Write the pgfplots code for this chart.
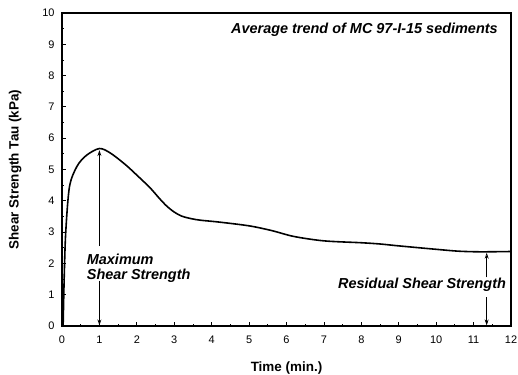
\documentclass[border=0pt]{standalone}
\usepackage{pgfplots}
\pgfplotsset{compat=1.18}
\usepackage{fontspec}
\setmainfont{Liberation Sans}
\usetikzlibrary{arrows.meta}
\begin{document}
\begin{tikzpicture}
\begin{axis}[
  scale only axis,
  width=449bp, height=313bp,
  xmin=0, xmax=12, ymin=0, ymax=10,
  xtick={0,...,12}, ytick={0,...,10},
  minor x tick num=1, minor y tick num=1,
  xtick pos=left, ytick pos=left,
  tick align=inside,
  major tick length=4bp, minor tick length=2.5bp,
  axis line style={line width=1.2pt},
  every tick/.style={line width=0.8pt, black},
  /pgf/number format/assume math mode=true,
  tick label style={font=\fontsize{11}{13}\selectfont},
  xticklabel style={yshift=-6bp},
  yticklabel style={xshift=-4bp},
  xlabel={\bfseries Time (min.)},
  ylabel={\bfseries Shear Strength Tau (kPa)},
  label style={font=\fontsize{13.5}{15}\selectfont},
  xlabel style={yshift=-12bp},
  ylabel style={yshift=14bp},
  clip=false,
]
\addplot[black, line width=1.6pt, smooth, tension=0.5] coordinates {
(0.03,0) (0.06,1.6) (0.1,3.0) (0.2,4.45) (0.4,5.1) (0.65,5.45) (1.0,5.67)
(1.3,5.52) (1.7,5.15) (2.0,4.82) (2.35,4.42) (2.6,4.08) (2.8,3.83) (3.0,3.64)
(3.2,3.51) (3.45,3.43) (3.7,3.38) (4.2,3.32) (5.0,3.2) (5.6,3.05) (6.2,2.86) (7.0,2.72)
(8.0,2.66) (8.5,2.62) (9.0,2.56) (10.0,2.45) (10.6,2.39) (11.2,2.37) (12,2.38)
};
\draw[-{Stealth[length=6bp,width=4bp,open]}, line width=0.7pt] (axis cs:1,2.55) -- (axis cs:1,5.62);
\draw[-{Stealth[length=6bp,width=4bp,open]}, line width=0.6pt] (axis cs:1,1.45) -- (axis cs:1,0.02);
\node[anchor=base west, font=\fontsize{14.5}{16}\selectfont\bfseries\itshape, inner sep=0pt] at (axis cs:0.66,1.95) {Maximum};
\node[anchor=base west, font=\fontsize{14.5}{16}\selectfont\bfseries\itshape, inner sep=0pt] at (axis cs:0.66,1.47) {Shear Strength};
\draw[-{Stealth[length=6bp,width=4bp,open]}, line width=0.6pt] (axis cs:11.35,1.55) -- (axis cs:11.35,2.34);
\draw[-{Stealth[length=6bp,width=4bp]}, line width=0.7pt] (axis cs:11.35,0.92) -- (axis cs:11.35,0.02);
\node[anchor=east, font=\fontsize{14.5}{16}\selectfont\bfseries\itshape, inner sep=0pt] at (axis cs:11.87,1.31) {Residual Shear Strength};
\node[anchor=east, font=\fontsize{14.5}{16}\selectfont\bfseries\itshape, inner sep=0pt] at (axis cs:11.65,9.45) {Average trend of MC 97-I-15 sediments};
\end{axis}
\pgfresetboundingbox
\path ([xshift=-62bp,yshift=-49bp]current axis.south west) rectangle ([xshift=7bp,yshift=13bp]current axis.north east);
\end{tikzpicture}
\end{document}
